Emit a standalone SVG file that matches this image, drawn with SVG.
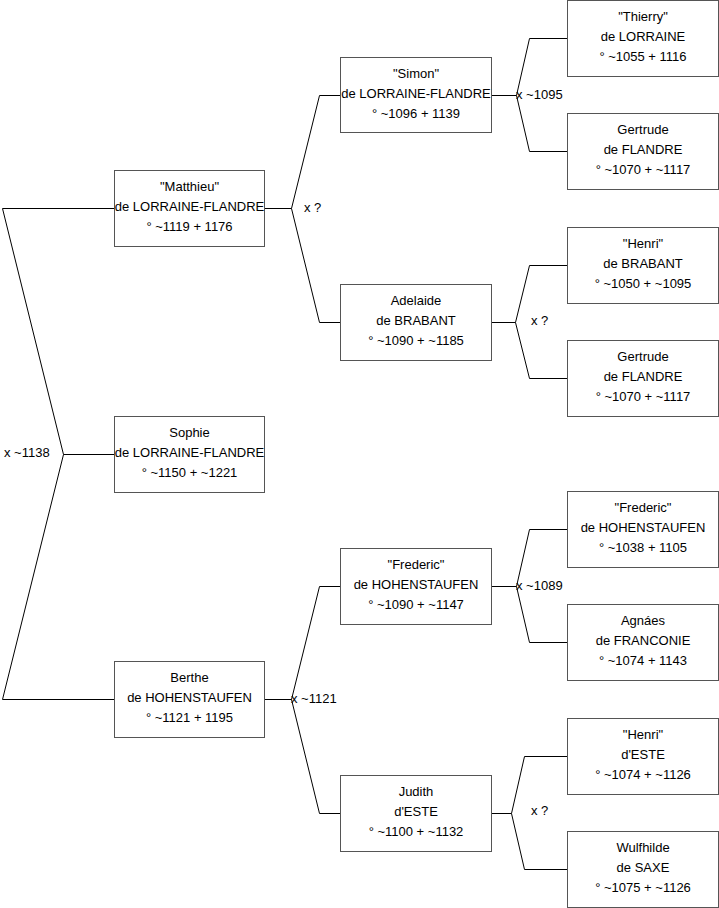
<svg xmlns="http://www.w3.org/2000/svg" width="719" height="908" viewBox="0 0 719 908">
<style>
.box{fill:#fff;stroke:#555;stroke-width:1}
.t{font-family:"Liberation Sans",Arial,sans-serif;font-size:13px;fill:#000;text-anchor:middle}
.l{font-family:"Liberation Sans",Arial,sans-serif;font-size:13px;fill:#000}
.c{fill:none;stroke:#000;stroke-width:1}
</style>
<rect width="719" height="908" fill="#fff"/>
<g id="connectors">
<polyline class="c" points="114.5,208.5 2.5,208.5 63.5,454.5 114.5,454.5"/>
<polyline class="c" points="63.5,454.5 2.5,699.5 114.5,699.5"/>
<polyline class="c" points="264.5,208.5 291.5,208.5 319.5,95.5 340.5,95.5"/>
<polyline class="c" points="291.5,208.5 319.5,322.5 340.5,322.5"/>
<polyline class="c" points="491.5,95.5 516.5,95.5 529.5,38.5 567.5,38.5"/>
<polyline class="c" points="516.5,95.5 529.5,151.5 567.5,151.5"/>
<polyline class="c" points="491.5,322.5 515.5,322.5 529.5,265.5 567.5,265.5"/>
<polyline class="c" points="515.5,322.5 529.5,378.5 567.5,378.5"/>
<polyline class="c" points="264.5,699.5 291.5,699.5 319.5,586.5 340.5,586.5"/>
<polyline class="c" points="291.5,699.5 319.5,813.5 340.5,813.5"/>
<polyline class="c" points="491.5,586.5 516.5,586.5 529.5,529.5 567.5,529.5"/>
<polyline class="c" points="516.5,586.5 529.5,642.5 567.5,642.5"/>
<polyline class="c" points="491.5,813.5 511.5,813.5 524.5,756.5 567.5,756.5"/>
<polyline class="c" points="511.5,813.5 524.5,869.5 567.5,869.5"/>
</g>
<g id="labels">
<text class="l" x="4" y="457">x ~1138</text>
<text class="l" x="304" y="212">x ?</text>
<text class="l" x="516" y="99">x ~1095</text>
<text class="l" x="531" y="325">x ?</text>
<text class="l" x="291" y="703">x ~1121</text>
<text class="l" x="516" y="590">x ~1089</text>
<text class="l" x="531" y="815">x ?</text>
</g>
<g id="matthieu"><rect class="box" x="114.5" y="170.5" width="150" height="76"/><text class="t" x="189.5" y="191">"Matthieu"</text><text class="t" x="189.5" y="211">de LORRAINE-FLANDRE</text><text class="t" x="189.5" y="231">° ~1119 + 1176</text></g>
<g id="sophie"><rect class="box" x="114.5" y="416.5" width="150" height="76"/><text class="t" x="189.5" y="437">Sophie</text><text class="t" x="189.5" y="457">de LORRAINE-FLANDRE</text><text class="t" x="189.5" y="477">° ~1150 + ~1221</text></g>
<g id="berthe"><rect class="box" x="114.5" y="661.5" width="150" height="76"/><text class="t" x="189.5" y="682">Berthe</text><text class="t" x="189.5" y="702">de HOHENSTAUFEN</text><text class="t" x="189.5" y="722">° ~1121 + 1195</text></g>
<g id="simon"><rect class="box" x="340.5" y="57.5" width="151" height="75"/><text class="t" x="416" y="78">"Simon"</text><text class="t" x="416" y="98">de LORRAINE-FLANDRE</text><text class="t" x="416" y="118">° ~1096 + 1139</text></g>
<g id="adelaide"><rect class="box" x="340.5" y="284.5" width="151" height="76"/><text class="t" x="416" y="305">Adelaide</text><text class="t" x="416" y="325">de BRABANT</text><text class="t" x="416" y="345">° ~1090 + ~1185</text></g>
<g id="frederic2"><rect class="box" x="340.5" y="548.5" width="151" height="76"/><text class="t" x="416" y="569">"Frederic"</text><text class="t" x="416" y="589">de HOHENSTAUFEN</text><text class="t" x="416" y="609">° ~1090 + ~1147</text></g>
<g id="judith"><rect class="box" x="340.5" y="775.5" width="151" height="76"/><text class="t" x="416" y="796">Judith</text><text class="t" x="416" y="816">d'ESTE</text><text class="t" x="416" y="836">° ~1100 + ~1132</text></g>
<g id="thierry"><rect class="box" x="567.5" y="0.5" width="151" height="76"/><text class="t" x="643" y="21">"Thierry"</text><text class="t" x="643" y="41">de LORRAINE</text><text class="t" x="643" y="61">° ~1055 + 1116</text></g>
<g id="gertrude1"><rect class="box" x="567.5" y="113.5" width="151" height="76"/><text class="t" x="643" y="134">Gertrude</text><text class="t" x="643" y="154">de FLANDRE</text><text class="t" x="643" y="174">° ~1070 + ~1117</text></g>
<g id="henri1"><rect class="box" x="567.5" y="227.5" width="151" height="76"/><text class="t" x="643" y="248">"Henri"</text><text class="t" x="643" y="268">de BRABANT</text><text class="t" x="643" y="288">° ~1050 + ~1095</text></g>
<g id="gertrude2"><rect class="box" x="567.5" y="340.5" width="151" height="76"/><text class="t" x="643" y="361">Gertrude</text><text class="t" x="643" y="381">de FLANDRE</text><text class="t" x="643" y="401">° ~1070 + ~1117</text></g>
<g id="frederic3"><rect class="box" x="567.5" y="491.5" width="151" height="76"/><text class="t" x="643" y="512">"Frederic"</text><text class="t" x="643" y="532">de HOHENSTAUFEN</text><text class="t" x="643" y="552">° ~1038 + 1105</text></g>
<g id="agnaes"><rect class="box" x="567.5" y="604.5" width="151" height="76"/><text class="t" x="643" y="625">Agnáes</text><text class="t" x="643" y="645">de FRANCONIE</text><text class="t" x="643" y="665">° ~1074 + 1143</text></g>
<g id="henri2"><rect class="box" x="567.5" y="718.5" width="151" height="76"/><text class="t" x="643" y="739">"Henri"</text><text class="t" x="643" y="759">d'ESTE</text><text class="t" x="643" y="779">° ~1074 + ~1126</text></g>
<g id="wulfhilde"><rect class="box" x="567.5" y="831.5" width="151" height="76"/><text class="t" x="643" y="852">Wulfhilde</text><text class="t" x="643" y="872">de SAXE</text><text class="t" x="643" y="892">° ~1075 + ~1126</text></g>
</svg>
